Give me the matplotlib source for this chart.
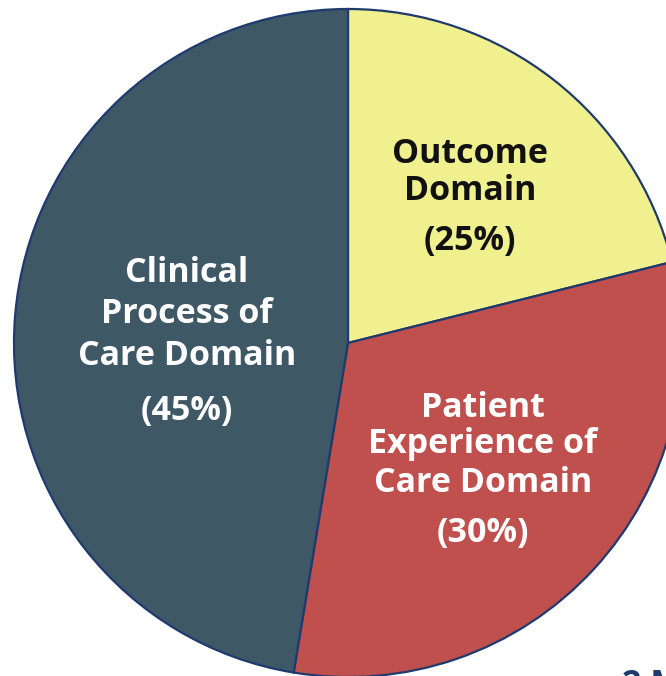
import matplotlib
matplotlib.use("Agg")
import matplotlib.pyplot as plt

W, H = 666, 676

categories = ["Outcome Domain", "Patient Experience of Care Domain", "Clinical Process of Care Domain"]
sizes = [21.1, 31.5, 47.4]
pct_labels = ["(25%)", "(30%)", "(45%)"]
colors = ["#F0F08F", "#C0504D", "#3F5866"]

label_lines = [
    ["Outcome", "Domain"],
    ["Patient", "Experience of", "Care Domain"],
    ["Clinical", "Process of", "Care Domain"],
]
text_colors = ["#111111", "white", "white"]

fig = plt.figure(figsize=(W / 100, H / 100), dpi=100)
ax = fig.add_axes([0, 0, 1, 1])

def Y(y):
    return H - y

ax.pie(sizes, colors=colors, startangle=90, counterclock=False,
       center=(348, Y(343)), radius=334,
       wedgeprops=dict(edgecolor="#1F3A6E", linewidth=1.6))
ax.set_xlim(0, W)
ax.set_ylim(0, H)
ax.set_aspect("equal")
ax.axis("off")

font = "Open Sans"
fs = 24.5

# text positions (pixel coords: x center, baselines)
positions = [
    (470, [163, 200], 250),
    (483, [417, 453, 492], 542),
    (187, [282, 323, 365], 420),
]

for lines, pct, (x, baselines, pb), tc in zip(label_lines, pct_labels, positions, text_colors):
    for line, b in zip(lines, baselines):
        ax.text(x, Y(b), line, ha="center", va="baseline", fontsize=fs,
                fontweight="bold", color=tc, family=font)
    ax.text(x, Y(pb), pct, ha="center", va="baseline", fontsize=fs,
            fontweight="bold", color=tc, family=font)

ax.text(622, Y(668), "2 M", ha="left", va="top", fontsize=fs,
        fontweight="bold", color="#1F3A6E", family=font)

fig.savefig("out.png", dpi=100)
